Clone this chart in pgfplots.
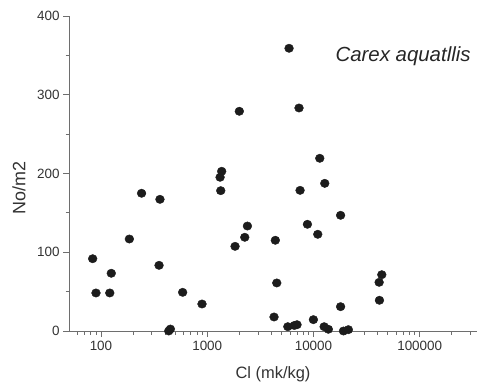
\documentclass[border=0pt]{standalone}
\usepackage{fontspec}
\setmainfont{Liberation Sans}
\usepackage{pgfplots}
\pgfplotsset{compat=1.18}
\definecolor{axisgray}{HTML}{6E6E6E}
\definecolor{labgray}{HTML}{333333}
\definecolor{dotcol}{HTML}{1C1C1C}
\begin{document}
\begin{tikzpicture}
\useasboundingbox (-69bp,-57bp) rectangle (408bp,331bp);
\begin{axis}[
  at={(0,0)}, anchor=south west,
  scale only axis, width=408bp, height=315bp,
  xmode=log, log basis x=10,
  xmin=50, xmax=346000, ymin=0, ymax=400,
  axis x line=bottom, axis y line=left,
  axis line style={axisgray, line width=0.9pt, -},
  every tick/.style={axisgray, line width=0.8pt},
  tick align=outside,
  major tick length=6bp, minor tick length=3.5bp,
  xtick={100,1000,10000,100000},
  xticklabels={100,1000,10000,100000},
  minor xtick={60,70,80,90,200,300,400,500,600,700,800,900,2000,3000,4000,5000,6000,7000,8000,9000,20000,30000,40000,50000,60000,70000,80000,90000,200000,300000},
  ytick={0,100,200,300,400},
  minor ytick={50,150,250,350},
  ticklabel style={font=\fontsize{13.5}{15}\selectfont, text=labgray},
  xticklabel style={yshift=-1bp},
  /pgf/number format/assume math mode=true,
  xlabel={Cl (mk/kg)}, ylabel={No/m2},
  xlabel style={font=\fontsize{16.5}{18}\selectfont, text=labgray, at={(axis description cs:0.5,-0.137)}, anchor=center},
  ylabel style={font=\fontsize{18}{20}\selectfont, text=labgray, at={(axis description cs:-0.1225,0.454)}, anchor=center},
  clip=false,
]
\addplot[only marks, mark=*, mark size=4.2bp, dotcol, mark options={fill=dotcol, draw=dotcol, xscale=1.05}] coordinates {
(83.5,91.8) (89.7,48.3) (121,48.3) (125,73.3) (185,116.8) (241,174.9)
(352,83.4) (359,167.2) (434,0) (450,2.5) (587,49.1) (893,34.3)
(1321,195.2) (1340,178.2) (1368,202.8) (1828,107.5) (2005,279) (2255,119)
(2389,133.3) (4254,17.8) (4375,115.2) (4512,61) (5734,5.5) (5890,359)
(6600,7) (7000,8) (7310,283.2) (7480,178.6) (8770,135.5) (9980,14.4)
(10970,122.8) (11460,219.3) (12600,5.5) (12770,187.5) (13800,2.2)
(18000,146.9) (18000,30.9) (19150,0) (21300,1.7) (41500,61.8) (41770,39)
(43950,71.5)
};
\node[anchor=east, font=\fontsize{20.5}{23}\selectfont\itshape, text=black!85] at (rel axis cs:0.993,0.873) {Carex aquatllis};
\end{axis}
\end{tikzpicture}
\end{document}
